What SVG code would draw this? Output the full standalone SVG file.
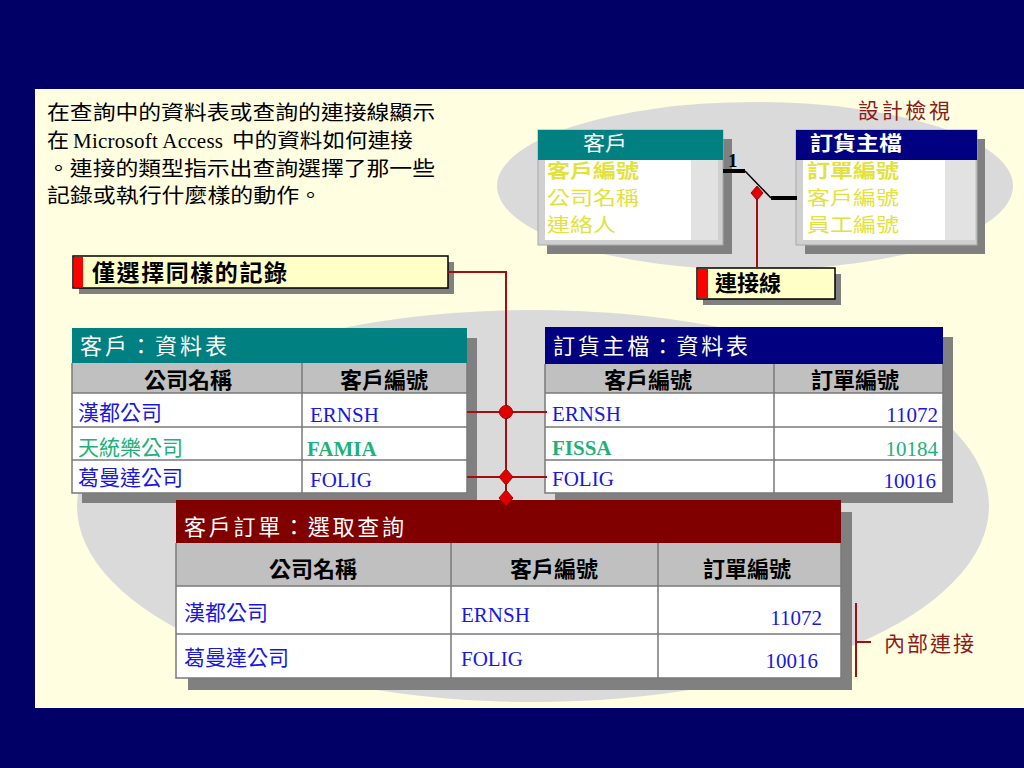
<svg xmlns="http://www.w3.org/2000/svg" width="1024" height="768" viewBox="0 0 1024 768">
<defs>
<style>
.cjk{font-family:'Noto Sans CJK TC','Noto Sans CJK SC',sans-serif}
.ser{font-family:'Liberation Serif',serif}
.intro{font-size:20px;fill:#000}
.shadow{fill:#808080}
.grid{stroke:#7a7a7a;stroke-width:1.5;fill:none}
.colhd{fill:#c0c0c0}
.body{fill:#fff}
.hdtxt{fill:#fff;font-size:22px}
.colt{fill:#000;font-size:22px;font-weight:bold;text-anchor:middle}
.blue{fill:#1818e0}
.green{fill:#22b07a}
.fld{fill:#e2e23c;font-size:19px}
.red{stroke:#a01010;stroke-width:2;fill:none}
.dot{fill:#e00000;stroke:#a00000;stroke-width:1}
.lbl{fill:#ffffc8;stroke:#000;stroke-width:1.5}
.strip{fill:#ff0000}
.dred{fill:#8b1a1a}
</style>
</defs>
<rect x="0" y="0" width="1024" height="768" fill="#000066"/>
<rect x="35" y="89" width="989" height="619" fill="#fffee0"/>
<ellipse cx="755" cy="186" rx="258" ry="84" fill="#dadada"/>
<ellipse cx="533" cy="506" rx="456" ry="196" fill="#dadada"/>

<g id="intro" class="cjk intro">
<text x="47" y="120" textLength="388" lengthAdjust="spacingAndGlyphs">在查詢中的資料表或查詢的連接線顯示</text>
<text x="47" y="148" textLength="22" lengthAdjust="spacingAndGlyphs">在</text>
<text x="73" y="148" class="ser" font-size="21" textLength="150" lengthAdjust="spacing">Microsoft Access</text>
<text x="232" y="148" textLength="181" lengthAdjust="spacingAndGlyphs">中的資料如何連接</text>
<text x="47" y="176" textLength="388" lengthAdjust="spacingAndGlyphs">。連接的類型指示出查詢選擇了那一些</text>
<text x="47" y="203" textLength="275" lengthAdjust="spacingAndGlyphs">記錄或執行什麼樣的動作。</text>
</g>

<g id="design-title">
<text x="858" y="118" class="cjk dred" font-size="21" textLength="92" lengthAdjust="spacing">設計檢視</text>
</g>

<g id="design-customer">
<rect x="547" y="139" width="185" height="115" class="shadow"/>
<rect x="538" y="130" width="185" height="115" fill="#d0d0d0" stroke="#a8a8a8" stroke-width="1"/>
<rect x="538" y="130" width="185" height="30" fill="#008080"/>
<rect x="545" y="160" width="146" height="80" class="body"/>
<rect x="691" y="160" width="27" height="80" fill="#e2e2e2"/>
<text x="605" y="151" class="cjk" fill="#fff" font-size="20" text-anchor="middle" textLength="44" lengthAdjust="spacingAndGlyphs">客戶</text>
<text x="547" y="178" class="cjk fld" font-weight="bold" textLength="92" lengthAdjust="spacingAndGlyphs">客戶編號</text>
<text x="547" y="205" class="cjk fld" textLength="92" lengthAdjust="spacingAndGlyphs">公司名稱</text>
<text x="547" y="232" class="cjk fld" textLength="69" lengthAdjust="spacingAndGlyphs">連絡人</text>
</g>

<g id="design-orders">
<rect x="805" y="139" width="180" height="115" class="shadow"/>
<rect x="796" y="130" width="181" height="115" fill="#d0d0d0" stroke="#a8a8a8" stroke-width="1"/>
<rect x="796" y="130" width="181" height="30" fill="#000080"/>
<rect x="803" y="160" width="142" height="80" class="body"/>
<rect x="945" y="160" width="30" height="80" fill="#e2e2e2"/>
<text x="810" y="151" class="cjk" fill="#fff" font-size="20" font-weight="bold" textLength="92" lengthAdjust="spacingAndGlyphs">訂貨主檔</text>
<text x="807" y="178" class="cjk fld" font-weight="bold" textLength="92" lengthAdjust="spacingAndGlyphs">訂單編號</text>
<text x="807" y="205" class="cjk fld" textLength="92" lengthAdjust="spacingAndGlyphs">客戶編號</text>
<text x="807" y="232" class="cjk fld" textLength="92" lengthAdjust="spacingAndGlyphs">員工編號</text>
</g>

<g id="label-join-line">
<rect x="703" y="274" width="138" height="31" class="shadow"/>
<rect x="697" y="268" width="138" height="31" class="lbl"/>
<rect x="698" y="269" width="10" height="29" class="strip"/>
<text x="715" y="291" class="cjk" font-size="22" font-weight="bold" fill="#000">連接線</text>
</g>

<g id="label-same-records">
<rect x="79" y="262" width="375" height="32" class="shadow"/>
<rect x="73" y="256" width="375" height="32" class="lbl"/>
<rect x="74" y="257" width="9" height="30" class="strip"/>
<text x="92" y="281" class="cjk" font-size="23" font-weight="bold" fill="#000" textLength="195" lengthAdjust="spacing">僅選擇同樣的記錄</text>
</g>

<g id="table-customers">
<rect x="82" y="338" width="395" height="165" class="shadow"/>
<rect x="72" y="328" width="395" height="35" fill="#008080"/>
<rect x="72" y="363" width="395" height="30" class="colhd"/>
<rect x="72" y="393" width="395" height="100" class="body"/>
<path d="M72 393H467M72 427H467M72 460H467M302 363V493M72 363V493H467V363" class="grid"/>
<text x="80" y="354" class="cjk hdtxt" textLength="147" lengthAdjust="spacing">客戶：資料表</text>
<text x="188" y="388" class="cjk colt">公司名稱</text>
<text x="384" y="388" class="cjk colt">客戶編號</text>
<text x="78" y="420" class="cjk blue" font-size="21">漢都公司</text>
<text x="310" y="422" class="ser blue" font-size="21">ERNSH</text>
<text x="78" y="455" class="cjk green" font-size="21">天統樂公司</text>
<text x="307" y="456" class="ser green" font-size="21" font-weight="bold">FAMIA</text>
<text x="78" y="485" class="cjk blue" font-size="21">葛曼達公司</text>
<text x="310" y="487" class="ser blue" font-size="21">FOLIG</text>
</g>

<g id="table-orders">
<rect x="555" y="337" width="398" height="166" class="shadow"/>
<rect x="545" y="327" width="398" height="37" fill="#000080"/>
<rect x="545" y="364" width="398" height="29" class="colhd"/>
<rect x="545" y="393" width="398" height="100" class="body"/>
<path d="M545 393H943M545 427H943M545 460H943M774 364V493M545 364V493H943V364" class="grid"/>
<text x="553" y="354" class="cjk hdtxt" textLength="195" lengthAdjust="spacing">訂貨主檔：資料表</text>
<text x="648" y="388" class="cjk colt">客戶編號</text>
<text x="855" y="388" class="cjk colt">訂單編號</text>
<text x="552" y="421" class="ser blue" font-size="21">ERNSH</text>
<text x="938" y="422" class="ser blue" font-size="21" text-anchor="end">11072</text>
<text x="552" y="455" class="ser green" font-size="21" font-weight="bold">FISSA</text>
<text x="938" y="456" class="ser green" font-size="21" text-anchor="end">10184</text>
<text x="552" y="486" class="ser blue" font-size="21">FOLIG</text>
<text x="936" y="488" class="ser blue" font-size="21" text-anchor="end">10016</text>
</g>

<g id="table-query">
<rect x="188" y="512" width="664" height="178" class="shadow"/>
<rect x="176" y="500" width="665" height="43" fill="#800000"/>
<rect x="176" y="543" width="665" height="43" class="colhd"/>
<rect x="176" y="586" width="665" height="92" class="body"/>
<path d="M176 586H841M176 634H841M451 543V678M658 543V678M176 543V678H841V543" class="grid"/>
<text x="184" y="535" class="cjk hdtxt" textLength="220" lengthAdjust="spacing">客戶訂單：選取查詢</text>
<text x="313" y="577" class="cjk colt">公司名稱</text>
<text x="554" y="577" class="cjk colt">客戶編號</text>
<text x="747" y="577" class="cjk colt">訂單編號</text>
<text x="184" y="620" class="cjk blue" font-size="21">漢都公司</text>
<text x="461" y="622" class="ser blue" font-size="21">ERNSH</text>
<text x="822" y="625" class="ser blue" font-size="21" text-anchor="end">11072</text>
<text x="184" y="665" class="cjk blue" font-size="21">葛曼達公司</text>
<text x="461" y="666" class="ser blue" font-size="21">FOLIG</text>
<text x="818" y="668" class="ser blue" font-size="21" text-anchor="end">10016</text>
</g>

<g id="label-inner-join">
<path d="M856 603V677M856 642H871" class="red" stroke-width="1.5"/>
<text x="884" y="651" class="cjk dred" font-size="21" textLength="90" lengthAdjust="spacing">內部連接</text>
</g>

<g id="connectors">
<path d="M723 171H745" stroke="#000" stroke-width="4"/>
<path d="M745 171L771 198" stroke="#000" stroke-width="1.5"/>
<path d="M771 198H797" stroke="#000" stroke-width="4"/>
<text x="728" y="167" class="ser" font-size="19" font-weight="bold" fill="#000">1</text>
<path d="M757 199V268" class="red" stroke-width="1.5"/>
<path d="M757 186L763 193L757 200L751 193Z" class="dot"/>
<path d="M448 272H506V500" class="red"/>
<path d="M467 412H547M467 477H547" class="red"/>
<circle cx="506" cy="412" r="6.5" class="dot"/>
<path d="M506 469L513 477L506 485L499 477Z" class="dot"/>
<path d="M506 490L513 498L506 506L499 498Z" class="dot"/>
</g>
</svg>
